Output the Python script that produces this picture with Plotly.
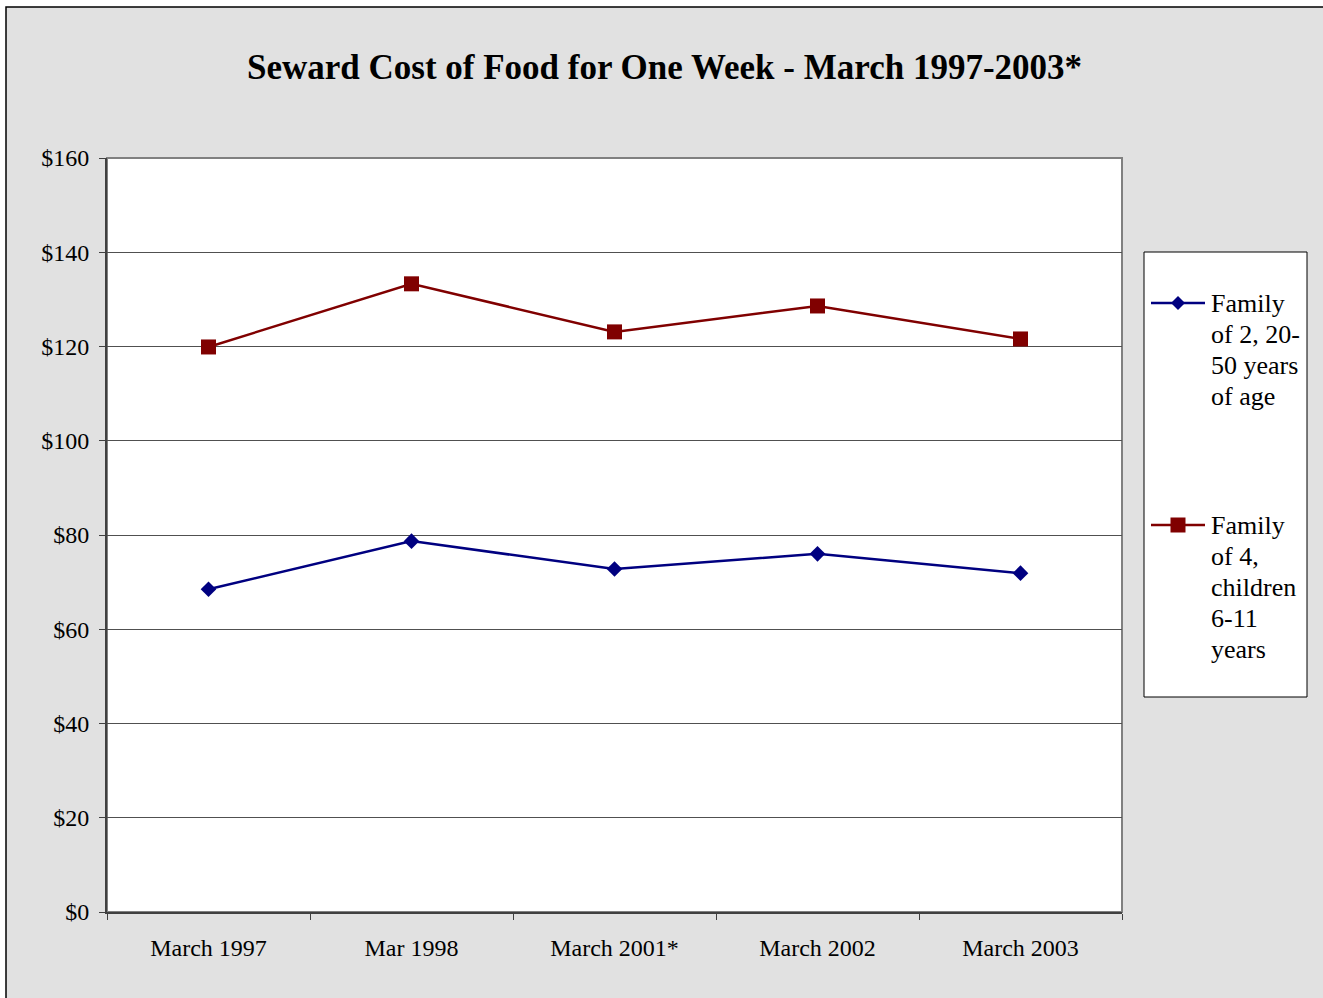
import plotly.graph_objects as go

categories = ["March 1997", "Mar 1998", "March 2001*", "March 2002", "March 2003"]
family2 = [68.5, 78.7, 72.8, 76.0, 71.9]
family4 = [119.9, 133.3, 123.1, 128.6, 121.6]
series_names = [["Family", "of 2, 20-", "50 years", "of age"],
                ["Family", "of 4,", "children", "6-11", "years"]]
colors = ["#000080", "#800000"]
y_ticks = [0, 20, 40, 60, 80, 100, 120, 140, 160]
y_ticklabels = ["$" + str(v) for v in y_ticks]

OFF = 0  # body margin removed by post_script
W, H = 1323 - OFF, 998 - OFF
PLOT_L, PLOT_R, PLOT_T, PLOT_B = 107, 1122, 158, 912  # in screenshot pixels
L, T = PLOT_L - OFF, PLOT_T - OFF
R = W - (PLOT_R - OFF)
B = H - (PLOT_B - OFF)
PW, PH = PLOT_R - PLOT_L, PLOT_B - PLOT_T
FONT = "Liberation Serif"


def px(x):
    return (x - PLOT_L) / PW


def py(y):
    return (PLOT_B - y) / PH


fig = go.Figure()
fig.add_trace(go.Scatter(x=categories, y=family2, mode="lines+markers",
                         line=dict(color=colors[0], width=2.5),
                         marker=dict(symbol="diamond", size=12, color=colors[0]),
                         showlegend=False))
fig.add_trace(go.Scatter(x=categories, y=family4, mode="lines+markers",
                         line=dict(color=colors[1], width=2.5),
                         marker=dict(symbol="square", size=15, color=colors[1]),
                         showlegend=False))

shapes = []
# chart background + outer border
shapes.append(dict(type="rect", xref="paper", yref="paper", x0=px(6), x1=px(1340), y0=py(1010), y1=py(7),
                   fillcolor="#e1e1e1", line=dict(color="black", width=1.5), layer="below"))
# plot area white
shapes.append(dict(type="rect", xref="paper", yref="paper", x0=0, x1=1, y0=0, y1=1,
                   fillcolor="white", line=dict(color="#808080", width=2), layer="below"))
# legend box
shapes.append(dict(type="rect", xref="paper", yref="paper", x0=px(1144), x1=px(1307), y0=py(697), y1=py(252),
                   fillcolor="white", line=dict(color="black", width=1)))

annotations = []
legend_rows = [303, 525]
line_spacing = 31
for i, (names, col) in enumerate(zip(series_names, colors)):
    yc = legend_rows[i]
    shapes.append(dict(type="line", xref="paper", yref="paper", x0=px(1151), x1=px(1205), y0=py(yc), y1=py(yc),
                       line=dict(color=col, width=2.5)))
    cx = 1178
    if i == 0:
        d = 7
        path = f"M {px(cx)} {py(yc - d)} L {px(cx + d)} {py(yc)} L {px(cx)} {py(yc + d)} L {px(cx - d)} {py(yc)} Z"
    else:
        d = 7.5
        path = (f"M {px(cx - d)} {py(yc - d)} L {px(cx + d)} {py(yc - d)} L {px(cx + d)} {py(yc + d)} "
                f"L {px(cx - d)} {py(yc + d)} Z")
    shapes.append(dict(type="path", xref="paper", yref="paper", path=path, fillcolor=col, line=dict(color=col, width=0)))
    for j, t in enumerate(names):
        annotations.append(dict(text=t, xref="paper", yref="paper", x=px(1209), y=py(yc + j * line_spacing),
                                xanchor="left", yanchor="middle", showarrow=False,
                                font=dict(family=FONT, size=26, color="black")))

fig.update_layout(
    width=W, height=H,
    margin=dict(l=L, r=R, t=T, b=B),
    paper_bgcolor="white",
    plot_bgcolor="white",
    title=dict(text="<b>Seward Cost of Food for One Week - March 1997-2003*</b>",
               x=(664.5 - OFF) / W, xanchor="center", xref="container",
               y=1 - (67 - OFF) / H, yanchor="middle", yref="container",
               font=dict(family=FONT, size=35, color="black")),
    shapes=shapes,
    annotations=annotations,
    showlegend=False,
    xaxis=dict(type="category", tickson="boundaries", ticks="outside", ticklen=6, tickwidth=1,
               tickcolor="#404040", showline=True, linecolor="#404040", linewidth=2,
               showgrid=False, tickfont=dict(family=FONT, size=24, color="black"),
               ticklabelstandoff=13, range=[-0.5, 4.5], zeroline=False),
    yaxis=dict(range=[0, 160], tickvals=y_ticks, ticktext=y_ticklabels, ticks="outside", ticklen=6,
               tickwidth=1, tickcolor="#404040", showline=True, linecolor="#404040", linewidth=2,
               showgrid=True, gridcolor="#505050", gridwidth=1, zeroline=False,
               ticklabelstandoff=5,
               tickfont=dict(family=FONT, size=24, color="black")),
)

fig.write_html("out.html",
               config={"displayModeBar": False},
               post_script="document.body.style.margin='0';document.body.style.overflow='hidden';")
